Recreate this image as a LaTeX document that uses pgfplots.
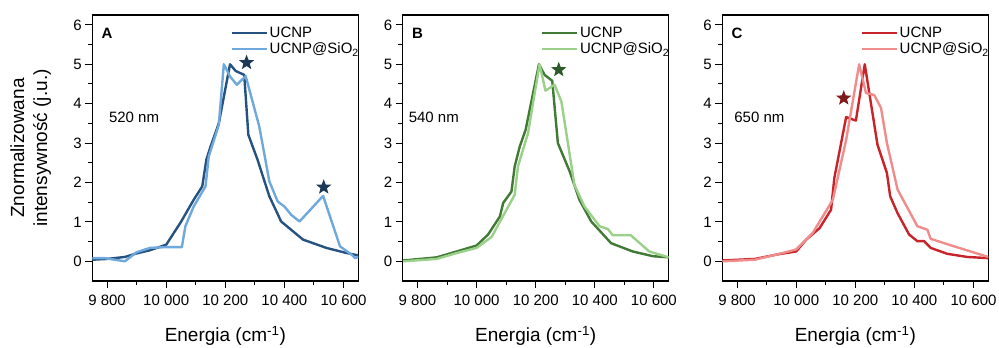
\documentclass[border=0pt]{standalone}
\usepackage{fontspec}
\setmainfont{Liberation Sans}
\usepackage{pgfplots}
\pgfplotsset{compat=1.18}

\definecolor{Adark}{RGB}{37,82,128}
\definecolor{Alight}{RGB}{111,168,220}
\definecolor{Astar}{RGB}{30,56,88}
\definecolor{Bdark}{RGB}{64,122,52}
\definecolor{Blight}{RGB}{154,208,138}
\definecolor{Bstar}{RGB}{45,90,40}
\definecolor{Cdark}{RGB}{200,35,40}
\definecolor{Clight}{RGB}{240,140,140}
\definecolor{Cstar}{RGB}{128,25,25}

\pgfdeclareplotmark{fivestar}{%
  \pgfpathmoveto{\pgfpointpolar{90}{\pgfplotmarksize}}%
  \pgfpathlineto{\pgfpointpolar{126}{0.42\pgfplotmarksize}}%
  \pgfpathlineto{\pgfpointpolar{162}{\pgfplotmarksize}}%
  \pgfpathlineto{\pgfpointpolar{198}{0.42\pgfplotmarksize}}%
  \pgfpathlineto{\pgfpointpolar{234}{\pgfplotmarksize}}%
  \pgfpathlineto{\pgfpointpolar{270}{0.42\pgfplotmarksize}}%
  \pgfpathlineto{\pgfpointpolar{306}{\pgfplotmarksize}}%
  \pgfpathlineto{\pgfpointpolar{342}{0.42\pgfplotmarksize}}%
  \pgfpathlineto{\pgfpointpolar{18}{\pgfplotmarksize}}%
  \pgfpathlineto{\pgfpointpolar{54}{0.42\pgfplotmarksize}}%
  \pgfpathclose\pgfusepathqfill}

\pgfplotsset{panel/.style={
  scale only axis, width=266pt, height=266pt, anchor=south west,
  xmin=9750, xmax=10650, ymin=-0.5, ymax=6.25,
  xtick={9800,10000,10200,10400,10600},
  xticklabels={9 800,10 000,10 200,10 400,10 600},
  scaled x ticks=false, scaled y ticks=false,
  minor x tick num=1,
  ytick={0,1,2,3,4,5,6}, minor y tick num=1,
  tick align=outside, xtick pos=lower, ytick pos=left,
  major tick length=7pt, minor tick length=4.5pt,
  every tick/.style={black, line width=1pt},
  axis line style={line width=1.2pt},
  ticklabel style={font=\fontsize{15}{18}\selectfont},
  xticklabel style={yshift=-3pt},
  /pgf/number format/assume math mode=true,
  xlabel={Energia (cm\textsuperscript{-1})},
  xlabel style={font=\fontsize{19}{22}\selectfont, at={(axis description cs:0.5,0)}, anchor=base, yshift=-60.7pt},
  legend cell align=left,
  legend style={draw=none, fill=none, font=\fontsize{15}{18}\selectfont,
    at={(axis description cs:0.52,0.962)}, anchor=north west, inner sep=0pt,
    nodes={inner sep=1.5pt}, row sep=1pt},
  legend image code/.code={\draw[#1] (0pt,0pt) -- (35pt,0pt);},
  every axis plot/.append style={line width=2.4pt, line join=round},
}}

\begin{document}
\begin{tikzpicture}
\path[use as bounding box] (0pt,0pt) rectangle (999pt,348pt);

% ---------------- Panel A ----------------
\begin{axis}[panel, at={(92.3pt,67pt)},
  ylabel={Znormalizowana\\intensywność (j.u.)},
  ylabel style={align=center, font=\fontsize{19}{23}\selectfont, at={(axis description cs:-0.232,0.5)}, anchor=center}]
\addplot[Adark] coordinates {(9750,0.04)(9800,0.06)(9860,0.11)(9900,0.2)(9945,0.28)(10000,0.42)(10050,1.0)(10093,1.56)(10122,1.9)(10136,2.58)(10150,2.91)(10178,3.5)(10216,5.0)(10235,4.83)(10264,4.73)(10278,3.21)(10309,2.58)(10349,1.65)(10389,1.01)(10463,0.55)(10542,0.34)(10610,0.21)(10650,0.15)};
\addlegendentry{UCNP}
\addplot[Alight] coordinates {(9750,0.08)(9792,0.08)(9860,0.0)(9900,0.23)(9945,0.34)(10000,0.36)(10053,0.36)(10065,0.89)(10093,1.39)(10133,1.9)(10144,2.66)(10178,3.46)(10195,5.0)(10216,4.69)(10239,4.48)(10269,4.7)(10315,3.42)(10349,2.03)(10377,1.52)(10400,1.39)(10423,1.18)(10451,1.01)(10531,1.66)(10588,0.38)(10627,0.17)(10640,0.08)(10650,0.12)};
\addlegendentry{UCNP@SiO\textsubscript{2}}
\addplot[only marks, mark=fivestar, mark size=8pt, color=Astar, forget plot] coordinates {(10272,5.04)(10533,1.88)};
\node[anchor=west, font=\fontsize{15}{18}\selectfont\bfseries, inner sep=0pt] at (axis cs:9781,5.79) {A};
\node[anchor=west, font=\fontsize{15}{18}\selectfont, inner sep=0pt] at (axis cs:9806,3.66) {520 nm};
\end{axis}

% ---------------- Panel B ----------------
\begin{axis}[panel, at={(402.7pt,67pt)}]
\addplot[Bdark] coordinates {(9751,0.02)(9865,0.1)(9933,0.25)(10000,0.4)(10039,0.68)(10079,1.14)(10090,1.48)(10118,1.77)(10129,2.41)(10146,2.91)(10166,3.34)(10211,5.0)(10230,4.73)(10256,4.58)(10275,3.0)(10315,2.28)(10348,1.56)(10388,1.01)(10455,0.46)(10528,0.25)(10596,0.13)(10650,0.1)};
\addlegendentry{UCNP}
\addplot[Blight] coordinates {(9751,0.0)(9865,0.06)(9933,0.21)(10000,0.34)(10051,0.62)(10129,1.69)(10140,2.41)(10174,3.25)(10213,5.0)(10233,4.33)(10264,4.48)(10287,4.05)(10331,1.94)(10365,1.39)(10416,0.89)(10444,0.82)(10461,0.66)(10522,0.66)(10584,0.25)(10650,0.1)};
\addlegendentry{UCNP@SiO\textsubscript{2}}
\addplot[only marks, mark=fivestar, mark size=8pt, color=Bstar, forget plot] coordinates {(10278,4.86)};
\node[anchor=west, font=\fontsize{15}{18}\selectfont\bfseries, inner sep=0pt] at (axis cs:9781,5.79) {B};
\node[anchor=west, font=\fontsize{15}{18}\selectfont, inner sep=0pt] at (axis cs:9770,3.66) {540 nm};
\end{axis}

% ---------------- Panel C ----------------
\begin{axis}[panel, at={(722.3pt,67pt)}]
\addplot[Cdark] coordinates {(9749,0.02)(9860,0.06)(9933,0.17)(10000,0.25)(10034,0.55)(10079,0.84)(10118,1.31)(10129,2.11)(10169,3.66)(10202,3.57)(10232,5.0)(10275,2.96)(10307,2.24)(10318,1.65)(10343,1.22)(10382,0.68)(10410,0.51)(10433,0.51)(10455,0.34)(10511,0.19)(10579,0.11)(10650,0.08)};
\addlegendentry{UCNP}
\addplot[Clight] coordinates {(9750,0.0)(9860,0.04)(9933,0.17)(10000,0.3)(10056,0.72)(10124,1.56)(10169,3.08)(10213,5.0)(10236,4.27)(10264,4.22)(10287,3.89)(10307,3.0)(10343,1.82)(10410,0.89)(10444,0.8)(10455,0.57)(10534,0.38)(10650,0.11)};
\addlegendentry{UCNP@SiO\textsubscript{2}}
\addplot[only marks, mark=fivestar, mark size=8pt, color=Cstar, forget plot] coordinates {(10161,4.14)};
\node[anchor=west, font=\fontsize{15}{18}\selectfont\bfseries, inner sep=0pt] at (axis cs:9781,5.79) {C};
\node[anchor=west, font=\fontsize{15}{18}\selectfont, inner sep=0pt] at (axis cs:9790,3.66) {650 nm};
\end{axis}
\end{tikzpicture}
\end{document}
